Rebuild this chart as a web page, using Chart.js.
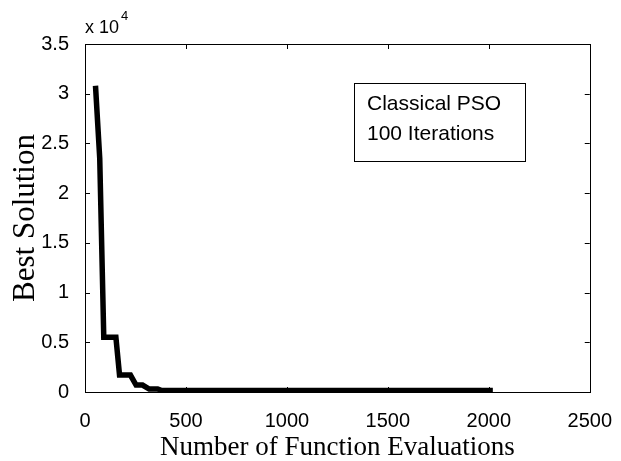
<!DOCTYPE html>
<html>
<head>
<meta charset="utf-8">
<script src="https://cdn.jsdelivr.net/npm/chart.js@4/dist/chart.umd.min.js"></script>
<style>
  html, body { margin: 0; padding: 0; background: #fff; }
</style>
</head>
<body>
<canvas id="chart" width="621" height="461"></canvas>
<script>
// values
var evals = [52, 73, 93, 153, 171, 225, 253, 285, 318, 360, 380, 2020];
var bestSolution = [30800, 23500, 5500, 5500, 1700, 1700, 700, 700, 300, 300, 150, 150];
var xTicks = [0, 500, 1000, 1500, 2000, 2500];
var yTicks = [0, 5000, 10000, 15000, 20000, 25000, 30000, 35000];
var yTickLabels = ['0', '0.5', '1', '1.5', '2', '2.5', '3', '3.5'];
var noteLines = ['Classical PSO', '100 Iterations'];

var sans = "'Liberation Sans', Arial, sans-serif";
var serif = "'Liberation Serif', 'Times New Roman', serif";

var points = evals.map(function (x, i) { return { x: x, y: bestSolution[i] }; });

// box, inward ticks, exponent label and the text box
var matlabAxes = {
  id: 'matlabAxes',
  afterDraw: function (chart) {
    var ctx = chart.ctx;
    var a = chart.chartArea;
    var xs = chart.scales.x, ys = chart.scales.y;
    ctx.save();
    ctx.strokeStyle = '#000';
    ctx.lineWidth = 1;
    ctx.strokeRect(Math.round(a.left) + 0.5, Math.round(a.top) + 0.5, Math.round(a.right - a.left), Math.round(a.bottom - a.top));
    ctx.beginPath();
    xTicks.forEach(function (v) {
      var px = Math.round(xs.getPixelForValue(v)) + 0.5;
      ctx.moveTo(px, a.bottom); ctx.lineTo(px, a.bottom - 5);
      ctx.moveTo(px, a.top); ctx.lineTo(px, a.top + 5);
    });
    yTicks.forEach(function (v) {
      var py = Math.round(ys.getPixelForValue(v)) + 0.5;
      ctx.moveTo(a.left, py); ctx.lineTo(a.left + 5, py);
      ctx.moveTo(a.right, py); ctx.lineTo(a.right - 5, py);
    });
    ctx.stroke();

    // x 10^4
    ctx.fillStyle = '#000';
    ctx.textBaseline = 'alphabetic';
    ctx.textAlign = 'left';
    ctx.font = '18px ' + sans;
    ctx.fillText('x 10', a.left, a.top - 11);
    var w = ctx.measureText('x 10').width;
    ctx.font = '13px ' + sans;
    ctx.fillText('4', a.left + w + 2, a.top - 24);

    // note box
    var bx = Math.round(xs.getPixelForValue(1331)), by = Math.round(ys.getPixelForValue(31080));
    var bw = 171, bh = 78;
    ctx.fillStyle = '#fff';
    ctx.fillRect(bx, by, bw, bh);
    ctx.strokeRect(bx + 0.5, by + 0.5, bw, bh);
    ctx.fillStyle = '#000';
    ctx.font = '21px ' + sans;
    ctx.textBaseline = 'middle';
    ctx.fillText(noteLines[0], bx + 13, by + 21);
    ctx.fillText(noteLines[1], bx + 13, by + 51);
    ctx.restore();
  }
};

new Chart(document.getElementById('chart'), {
  type: 'line',
  data: {
    datasets: [{
      data: points,
      borderColor: '#000',
      borderWidth: 5.5,
      borderJoinStyle: 'miter',
      pointRadius: 0,
      tension: 0,
      fill: false
    }]
  },
  options: {
    responsive: false,
    animation: false,
    devicePixelRatio: 1,
    layout: { padding: { top: 44, right: 25, left: 0, bottom: 0 } },
    plugins: { legend: { display: false }, tooltip: { enabled: false } },
    scales: {
      x: {
        type: 'linear',
        min: 0,
        max: 2500,
        afterBuildTicks: function (s) { s.ticks = xTicks.map(function (v) { return { value: v }; }); },
        afterFit: function (s) { s.height = 69; },
        grid: { display: false },
        border: { display: false },
        ticks: {
          color: '#000',
          font: { family: sans, size: 20 },
          padding: 9,
          maxRotation: 0,
          callback: function (v) { return String(v); }
        },
        title: {
          display: true,
          text: 'Number of Function Evaluations',
          color: '#000',
          font: { family: serif, size: 27, lineHeight: 1 },
          padding: { top: 0, bottom: 0 }
        }
      },
      y: {
        min: 0,
        max: 35000,
        afterBuildTicks: function (s) { s.ticks = yTicks.map(function (v) { return { value: v }; }); },
        afterFit: function (s) { s.width = 85; },
        grid: { display: false },
        border: { display: false },
        ticks: {
          color: '#000',
          font: { family: sans, size: 20 },
          padding: 8,
          callback: function (v) { return yTickLabels[yTicks.indexOf(v)]; }
        },
        title: {
          display: true,
          text: 'Best Solution',
          color: '#000',
          font: { family: serif, size: 31, lineHeight: 1 },
          padding: { top: 10, bottom: 0 }
        }
      }
    }
  },
  plugins: [matlabAxes]
});
</script>
</body>
</html>
